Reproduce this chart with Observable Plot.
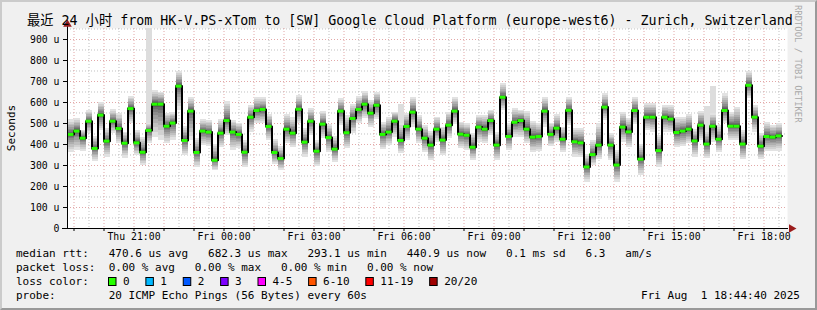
<!DOCTYPE html>
<html><head><meta charset="utf-8">
<script src="https://cdn.jsdelivr.net/npm/d3@7"></script>
<script src="https://cdn.jsdelivr.net/npm/@observablehq/plot@0.6"></script>
<style>
html,body{margin:0;padding:0;background:#f0f0f0;}
#wrap{position:relative;width:817px;height:310px;background:#f0f0f0;overflow:hidden;}
#wrap svg{position:absolute;left:0;top:0;}
#border{position:absolute;left:0;top:0;width:817px;height:310px;box-sizing:border-box;border-top:2px solid #cbcbcb;border-left:2px solid #cbcbcb;border-right:2px solid #999;border-bottom:2px solid #999;pointer-events:none;}
</style></head>
<body><div id="wrap"><div id="border"></div></div>
<script>
// ---- data (microseconds), one value per 12-minute step ----
const median = [448,464,430,511,381,540,416,511,476,406,571,408,363,467,592,592,487,502,678,419,
559,362,464,459,325,454,514,459,448,363,530,562,567,486,362,333,473,454,568,411,
511,368,497,433,378,559,456,524,567,592,549,587,448,459,511,419,486,554,473,430,
397,473,421,492,559,449,444,387,483,473,514,397,625,438,506,514,473,435,438,559,
448,478,425,563,413,408,293,352,397,578,397,302,483,460,562,330,530,530,371,530,
521,457,464,473,417,492,402,487,425,562,487,487,402,682,530,392,438,435,441];
const smokeLo = [364,371,368,451,321,467,340,451,403,335,498,348,300,403,435,419,403,419,562,348,
419,292,395,390,276,384,443,371,379,289,459,498,498,419,305,276,403,384,498,340,
443,295,427,363,316,490,379,454,498,522,483,517,375,395,435,356,419,483,403,363,
324,411,348,427,495,379,371,324,411,403,443,324,562,371,435,432,403,363,368,483,
390,411,363,490,340,340,221,300,327,514,324,221,411,384,495,252,467,459,292,459,
459,384,390,403,340,419,332,411,363,498,419,419,327,617,459,327,368,368,368];
const smokeHi = [517,524,467,562,438,600,475,565,546,459,629,467,432,498,657,649,549,552,749,486,
622,427,517,514,400,517,605,514,502,419,586,622,622,543,422,390,543,527,633,475,
570,419,559,495,438,617,538,590,629,652,610,649,506,530,554,500,546,625,538,490,
464,530,483,554,625,506,498,454,538,538,562,459,689,498,570,562,559,510,498,622,
502,541,483,625,475,475,352,419,498,644,451,371,554,522,625,400,597,597,443,586,
586,527,527,543,470,559,465,546,490,641,554,578,467,749,586,454,506,490,498];
const outlierStep = [14, 56, 107, 108];
const outlierTop = [952, 590, 581, 676];

const yTickValues = [0,100,200,300,400,500,600,700,800,900];
const yTickLabels = ["0","100 u","200 u","300 u","400 u","500 u","600 u","700 u","800 u","900 u"];
const xTickLabels = ["Thu 21:00","Fri 00:00","Fri 03:00","Fri 06:00","Fri 09:00","Fri 12:00","Fri 15:00","Fri 18:00"];

const titleText = "最近 24 小时 from HK-V.PS-xTom to [SW] Google Cloud Platform (europe-west6) - Zurich, Switzerland";
const legendRows = [
  "median rtt:   470.6 us avg   682.3 us max   293.1 us min   440.9 us now   0.1 ms sd   6.3   am/s",
  "packet loss:  0.00 % avg   0.00 % max   0.00 % min   0.00 % now",
  "loss color:",
  "probe:        20 ICMP Echo Pings (56 Bytes) every 60s"
];
const lossLabels = ["0","1","2","3","4-5","6-10","11-19","20/20"];
const lossColors = ["#26ff00","#00b8ff","#0059ff","#7e00ff","#ff00ff","#ff5500","#ff0000","#a00000"];
const dateText = "Fri Aug  1 18:44:40 2025";

// ---- build ----
const MIN = 60000, HOUR = 3600000;
const stepMs = 12*MIN;
const firstStep = Date.UTC(2025,6,31,18,48);
const xStart = Date.UTC(2025,6,31,18,47), xEnd = xStart + 24*HOUR;
const rows = median.map((m,i)=>({t0:new Date(firstStep+i*stepMs), t1:new Date(firstStep+(i+1)*stepMs), med:m, lo:smokeLo[i], hi:smokeHi[i]}));
const outRows = outlierStep.map((s,j)=>({t0:rows[s-1].t0, t1:rows[s-1].t1, y1:rows[s-1].hi, y2:outlierTop[j]}));
const linePts = rows.map(d=>({t:d.t0, v:d.med})).concat([{t:rows[rows.length-1].t1, v:rows[rows.length-1].med}]);

const firstHour = Date.UTC(2025,6,31,19);
const hourTimes = d3.range(24).map(i=>new Date(firstHour+i*HOUR));
const halfTimes = d3.range(25).map(i=>new Date(firstHour-HOUR/2+i*HOUR)).filter(d=>+d>xStart && +d<xEnd);
const xTickTimes = xTickLabels.map((l,i)=>+new Date(Date.UTC(2025,6,31,21)+i*3*HOUR));
const xLabelMap = new Map(xTickTimes.map((t,i)=>[t,xTickLabels[i]]));
const yLabelMap = new Map(yTickValues.map((v,i)=>[v,yTickLabels[i]]));
const minorY = d3.range(50,951,100);
const majorY = yTickValues.filter(v=>v>0);

const NL = 10;
const layers = d3.range(NL).map(k=>{
  const f = Math.pow(1 - k/NL, 1.5);
  const g = Math.round(226 - k*17);
  return Plot.rect(rows, {x1:"t0", x2:"t1",
    y1:d=>d.med-(d.med-d.lo)*f, y2:d=>d.med+(d.hi-d.med)*f,
    fill:d3.rgb(g,g,g).formatHex(), shapeRendering:"crispEdges"});
});

const chart = Plot.plot({
  width:817, height:310,
  marginLeft:67, marginRight:30, marginTop:28, marginBottom:82,
  style:{background:"transparent", fontFamily:"'DejaVu Sans Mono', monospace", fontSize:"9.8px", color:"#000", overflow:"visible"},
  x:{type:"utc", domain:[new Date(xStart), new Date(xEnd)], axis:null},
  y:{domain:[0,952.4], axis:null},
  marks:[
    Plot.frame({fill:"white", stroke:"none"}),
    Plot.ruleX(halfTimes, {stroke:"#b0b0b0", strokeDasharray:"1,2", strokeOpacity:0.8}),
    Plot.ruleY(minorY, {stroke:"#b0b0b0", strokeDasharray:"1,2", strokeOpacity:0.8}),
    Plot.ruleX(hourTimes, {stroke:"#d88a8a", strokeDasharray:"1,2", strokeOpacity:0.75}),
    Plot.ruleY(majorY, {stroke:"#d88a8a", strokeDasharray:"1,2", strokeOpacity:0.75}),
    Plot.rect(outRows, {x1:"t0", x2:"t1", y1:"y1", y2:"y2", fill:"#dddddd", shapeRendering:"crispEdges"}),
    ...layers,
    Plot.line(linePts, {x:"t", y:"v", curve:"step-after", stroke:"#000", strokeWidth:2}),
    Plot.ruleY(rows, {x1:"t0", x2:"t1", y:"med", stroke:"#26ff00", strokeWidth:3}),
    Plot.axisX({ticks:hourTimes, tickFormat:d=>xLabelMap.get(+d) ?? "", tickSize:3, tickPadding:2, label:null}),
    Plot.axisY({ticks:yTickValues, tickFormat:d=>yLabelMap.get(d), tickSize:4, tickPadding:4, label:null}),
    Plot.ruleY([0], {x1:()=>new Date(xStart-10*MIN), x2:()=>new Date(xEnd+2*MIN), stroke:"#000", strokeWidth:1}),
    Plot.ruleX([0], {x:()=>new Date(xStart), y1:()=>0, y2:()=>962, stroke:"#000", strokeWidth:1}),
    Plot.dot([0], {x:()=>new Date(xEnd+8*MIN), y:()=>0, symbol:"triangle", rotate:90, r:3.2, fill:"#9b1c1c", stroke:"none"}),
    Plot.dot([0], {x:()=>new Date(xStart), y:()=>972, symbol:"triangle", r:3.2, fill:"#9b1c1c", stroke:"none"})
  ]
});
const wrap = document.getElementById("wrap");
wrap.insertBefore(chart, document.getElementById("border"));

const svg = d3.select(chart);
const mono = "'DejaVu Sans Mono', 'Noto Sans CJK SC', monospace";
function txt(){ return svg.append("text").attr("font-family",mono).attr("fill","#000").attr("text-anchor","start").style("white-space","pre"); }
txt().attr("x",27).attr("y",25).attr("font-size","13.3px").text(titleText);
txt().attr("transform","translate(15,128) rotate(-90)").attr("text-anchor","middle").attr("font-size","11px").text("Seconds");
txt().attr("transform","translate(795,5) rotate(90)").attr("font-size","8.9px").attr("fill","#a8a8a8").text("RRDTOOL / TOBI OETIKER");
const cw = 6.615;
legendRows.forEach((r,i)=>{
  txt().attr("x",16).attr("y",257+i*14).attr("font-size","11px").text(r);
});
let bx = 108;
lossLabels.forEach((l,i)=>{
  svg.append("rect").attr("x",bx+0.5).attr("y",277.5).attr("width",7.5).attr("height",8)
    .attr("fill",lossColors[i]).attr("stroke","#000").attr("stroke-width",1);
  txt().attr("x",bx+15).attr("y",285).attr("font-size","11px").text(l);
  bx += (l.length+4.65)*cw;
});
txt().attr("x",800).attr("y",299).attr("text-anchor","end").attr("font-size","11px").text(dateText);
</script>
</body></html>
